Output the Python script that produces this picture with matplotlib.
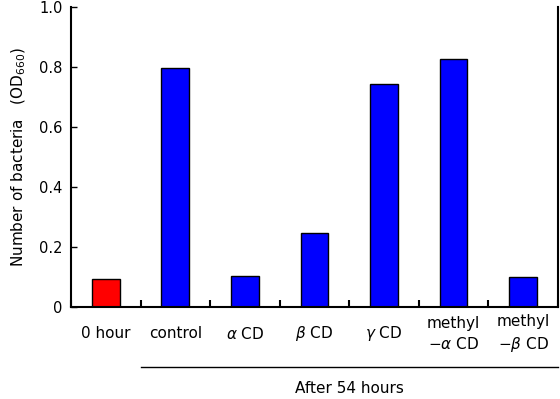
import matplotlib.pyplot as plt
import numpy as np

plt.rcParams['font.family'] = ['DejaVu Sans', 'Noto Sans CJK JP']
plt.rcParams['mathtext.fontset'] = 'dejavusans'

categories = ['0 hour', 'control', r'$\alpha$ CD', r'$\beta$ CD', r'$\gamma$ CD',
              'methyl\n\u2212$\\alpha$ CD', 'methyl\n\u2212$\\beta$ CD']
values = [0.093, 0.797, 0.103, 0.247, 0.743, 0.827, 0.100]
colors = ['#ff0000'] + ['#0000ff'] * 6
yticks = [0, 0.2, 0.4, 0.6, 0.8, 1.0]
ytick_labels = ['0', '0.2', '0.4', '0.6', '0.8', '1.0']

fig = plt.figure(figsize=(5.6, 3.99), dpi=100)
ax = fig.add_axes([0.127, 0.2306, 0.869, 0.752])

x = np.arange(len(categories))
ax.bar(x, values, width=0.4, color=colors, edgecolor='black', linewidth=1)

ax.set_xlim(-0.5, len(categories) - 0.5)
ax.set_ylim(0, 1.0)
ax.set_yticks(yticks)
ax.set_yticklabels(ytick_labels, fontsize=10.5)
ax.tick_params(axis='y', direction='in', length=4, width=1, pad=6)
ax.set_xticks(np.arange(len(categories) + 1) - 0.5)
ax.set_xticklabels([])
ax.tick_params(axis='x', direction='in', length=5, width=1.5)
ax.spines['top'].set_visible(False)
for s in ['left', 'right', 'bottom']:
    ax.spines[s].set_linewidth(1.5)

for i, lab in enumerate(categories):
    ax.text(i, -0.09, lab, ha='center', va='center', fontsize=11,
            clip_on=False, linespacing=1.45)

ax.set_ylabel('Number of bacteria   (OD$_{660}$)', fontsize=11, labelpad=8)

# group bracket for the 54 hour samples
ax.plot([0.5, 6.5], [-0.2, -0.2], color='black', linewidth=1, clip_on=False)
ax.text(3.5, -0.27, 'After 54 hours', ha='center', va='center', fontsize=11)

fig.savefig('out.png', dpi=100)
